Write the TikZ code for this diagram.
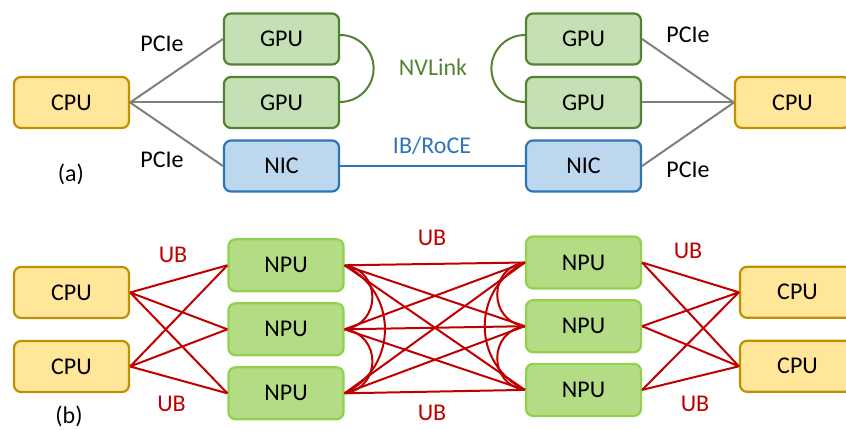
\documentclass[tikz,border=0pt]{standalone}
\usepackage{fontspec}
\setmainfont{Carlito}
\usepackage{xcolor}
\usetikzlibrary{shapes,arrows,positioning,calc}

\definecolor{cpufill}{HTML}{FFE699}
\definecolor{cpuline}{HTML}{BF9000}
\definecolor{gpufill}{HTML}{C5E0B4}
\definecolor{gpuline}{HTML}{548235}
\definecolor{nicfill}{HTML}{BDD7EE}
\definecolor{nicline}{HTML}{2E75B6}
\definecolor{npufill}{HTML}{B4DC85}
\definecolor{npuline}{HTML}{92D050}
\definecolor{pcieline}{HTML}{7F7F7F}
\definecolor{ubred}{HTML}{C00000}

\begin{document}
\begin{tikzpicture}[x=1pt, y=1pt, node distance=63.5pt, auto,
    box/.style={rectangle, rounded corners=7pt, minimum width=115pt, minimum height=51pt, line width=2.2pt, font=\fontsize{24}{28}\selectfont},
    cpu/.style={box, draw=cpuline, fill=cpufill},
    gpu/.style={box, draw=gpuline, fill=gpufill},
    nic/.style={box, draw=nicline, fill=nicfill},
    npu/.style={box, draw=npuline, fill=npufill, minimum height=52pt},
    lbl/.style={font=\fontsize{24}{28}\selectfont, inner sep=1pt},
    pcie/.style={draw=pcieline, line width=2pt},
    nvl/.style={draw=gpuline, line width=2pt},
    ib/.style={draw=nicline, line width=2pt},
    ub/.style={draw=ubred, line width=2pt}]
    \useasboundingbox (0,0) rectangle (846,-430);

    % (a) GPU servers
    \node[cpu] (cpuL) at (71.5,-102.5) {CPU};
    \node[gpu, right of=cpuL, node distance=210pt] (gpuL2) {GPU};
    \node[gpu, above of=gpuL2] (gpuL1) {GPU};
    \node[nic, below of=gpuL2] (nicL) {NIC};
    \node[gpu, right of=gpuL2, node distance=302pt] (gpuR2) {GPU};
    \node[gpu, above of=gpuR2] (gpuR1) {GPU};
    \node[nic, below of=gpuR2] (nicR) {NIC};
    \node[cpu, right of=gpuR2, node distance=209pt] (cpuR) {CPU};

    \node[lbl] (pcieL1) at (162,-44) {PCIe};
    \node[lbl] (pcieL2) at (162,-160) {PCIe};
    \node[lbl] (pcieR1) at (688,-35) {PCIe};
    \node[lbl] (pcieR2) at (688,-170) {PCIe};
    \node[lbl, text=gpuline] (nvlink) at (433,-67) {NVLink};
    \node[lbl, text=nicline] (ibroce) at (432,-146) {IB/RoCE};
    \node[lbl] (capA) at (71,-174) {(a)};

    \draw[pcie] (cpuL.east) -- (gpuL1.west);
    \draw[pcie] (cpuL.east) -- (gpuL2.west);
    \draw[pcie] (cpuL.east) -- (nicL.west);
    \draw[pcie] (gpuR1.east) -- (cpuR.west);
    \draw[pcie] (gpuR2.east) -- (cpuR.west);
    \draw[pcie] (nicR.east) -- (cpuR.west);
    \draw[nvl] ([yshift=4pt]gpuL1.east) arc[start angle=90, end angle=-90, radius=33.5pt];
    \draw[nvl] ([yshift=4pt]gpuR1.west) arc[start angle=90, end angle=270, radius=33.5pt];
    \draw[ib] (nicL.east) -- (nicR.west);

    % (b) NPU supernode
    \node[cpu] (cpuLa) at (71.5,-292.5) {CPU};
    \node[cpu, below of=cpuLa, node distance=74pt] (cpuLb) {CPU};
    \node[npu] (npuLa) at (286,-265.3) {NPU};
    \node[npu, below of=npuLa, node distance=64pt] (npuLb) {NPU};
    \node[npu, below of=npuLb, node distance=64pt] (npuLc) {NPU};
    \node[npu] (npuRa) at (583.5,-262.5) {NPU};
    \node[npu, below of=npuRa, node distance=63.7pt] (npuRb) {NPU};
    \node[npu, below of=npuRb, node distance=63.7pt] (npuRc) {NPU};
    \node[cpu] (cpuRa) at (797.5,-292.3) {CPU};
    \node[cpu, below of=cpuRa, node distance=74pt] (cpuRb) {CPU};

    \node[lbl, text=ubred] (ubL1) at (173,-254.5) {UB};
    \node[lbl, text=ubred] (ubL2) at (171.5,-404) {UB};
    \node[lbl, text=ubred] (ubM1) at (432,-238) {UB};
    \node[lbl, text=ubred] (ubM2) at (432,-413) {UB};
    \node[lbl, text=ubred] (ubR1) at (688,-251) {UB};
    \node[lbl, text=ubred] (ubR2) at (695,-404) {UB};
    \node[lbl] (capB) at (69,-416.5) {(b)};

    \draw[ub] (cpuLa.east) -- (npuLa.west) (cpuLa.east) -- (npuLb.west) (cpuLa.east) -- (npuLc.west);
    \draw[ub] (cpuLb.east) -- (npuLa.west) (cpuLb.east) -- (npuLb.west) (cpuLb.east) -- (npuLc.west);
    \draw[ub] (npuRa.east) -- (cpuRa.west) (npuRb.east) -- (cpuRa.west) (npuRc.east) -- (cpuRa.west);
    \draw[ub] (npuRa.east) -- (cpuRb.west) (npuRb.east) -- (cpuRb.west) (npuRc.east) -- (cpuRb.west);
    \draw[ub] (npuLa.east) -- (npuRa.west) (npuLa.east) -- (npuRb.west) (npuLa.east) -- (npuRc.west);
    \draw[ub] (npuLb.east) -- (npuRa.west) (npuLb.east) -- (npuRb.west) (npuLb.east) -- (npuRc.west);
    \draw[ub] (npuLc.east) -- (npuRa.west) (npuLc.east) -- (npuRb.west) (npuLc.east) -- (npuRc.west);
    \draw[ub] (npuLa.east) to[out=-8, in=8, looseness=1.5] (npuLb.east);
    \draw[ub] (npuLb.east) to[out=-8, in=8, looseness=1.5] (npuLc.east);
    \draw[ub] (npuLa.east) to[out=-26, in=26, looseness=1.2] (npuLc.east);
    \draw[ub] (npuRa.west) to[out=188, in=172, looseness=1.5] (npuRb.west);
    \draw[ub] (npuRb.west) to[out=188, in=172, looseness=1.5] (npuRc.west);
    \draw[ub] (npuRa.west) to[out=206, in=154, looseness=1.2] (npuRc.west);
\end{tikzpicture}
\end{document}
